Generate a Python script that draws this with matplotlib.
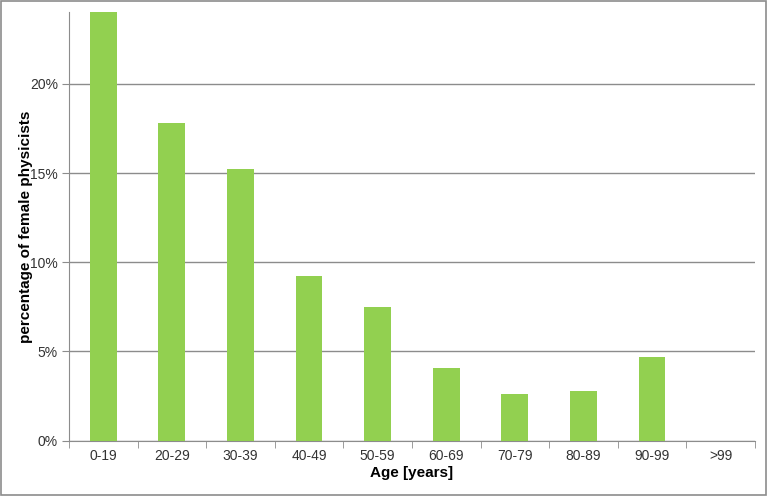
import numpy as np
import matplotlib.pyplot as plt
from matplotlib.patches import Rectangle
from matplotlib.ticker import FuncFormatter, MultipleLocator

plt.rcParams['font.family'] = ['Liberation Sans', 'DejaVu Sans']

# age groups and share of female physicists (%)
age_groups = ["0-19", "20-29", "30-39", "40-49", "50-59",
              "60-69", "70-79", "80-89", "90-99", ">99"]
female_pct = [24.0, 17.8, 15.2, 9.25, 7.5, 4.1, 2.6, 2.8, 4.7, 0.0]

fig = plt.figure(figsize=(7.68, 4.96), dpi=100)
ax = fig.add_axes([0.0898, 0.1115, 0.8932, 0.8635])

x = np.arange(len(age_groups))
ax.bar(x, female_pct, width=0.39, color="#92D050", zorder=3)

ax.set_xlim(-0.5, len(age_groups) - 0.5)
ax.set_ylim(0, 24)
ax.yaxis.set_major_locator(MultipleLocator(5))
ax.yaxis.set_major_formatter(FuncFormatter(lambda v, p: "%d%%" % v))
ax.grid(axis="y", color="#8c8c8c", linewidth=1, zorder=0)

ax.set_xticks(x)
ax.set_xticklabels(age_groups)
# tick marks sit between categories
ax.set_xticks(np.arange(len(age_groups) + 1) - 0.5, minor=True)
ax.tick_params(axis="x", which="major", length=0, pad=6, labelsize=10, labelcolor="#333333")
ax.tick_params(axis="x", which="minor", length=5, color="#8c8c8c", direction="out")
ax.tick_params(axis="y", length=5, color="#8c8c8c", labelsize=10, labelcolor="#333333", pad=3)

for s in ["top", "right"]:
    ax.spines[s].set_visible(False)
for s in ["left", "bottom"]:
    ax.spines[s].set_color("#8c8c8c")

ax.set_xlabel("Age [years]", fontsize=11, fontweight="bold", labelpad=2)
ax.set_ylabel("percentage of female physicists", fontsize=11, fontweight="bold", labelpad=-2)

fig.patches.append(Rectangle((0.001, 0.002), 0.997, 0.995, transform=fig.transFigure,
                             fill=False, edgecolor="#8c8c8c", linewidth=1.2))

fig.savefig("out.png", dpi=100)
